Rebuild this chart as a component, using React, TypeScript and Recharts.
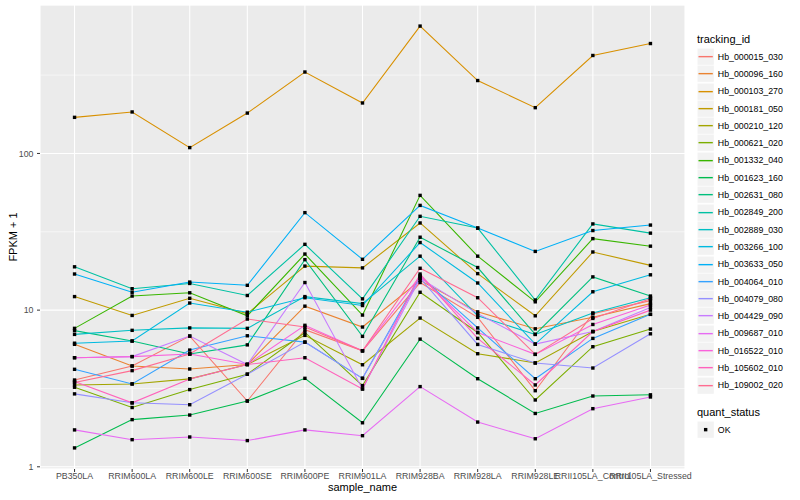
import React from "react";
import {
  LineChart,
  Line,
  XAxis,
  YAxis,
  CartesianGrid,
} from "recharts";

const sampleNames = [
  "PB350LA",
  "RRIM600LA",
  "RRIM600LE",
  "RRIM600SE",
  "RRIM600PE",
  "RRIM901LA",
  "RRIM928BA",
  "RRIM928LA",
  "RRIM928LE",
  "RRII105LA_Control",
  "RRII105LA_Stressed",
];

const trackingIds = [
  "Hb_000015_030",
  "Hb_000096_160",
  "Hb_000103_270",
  "Hb_000181_050",
  "Hb_000210_120",
  "Hb_000621_020",
  "Hb_001332_040",
  "Hb_001623_160",
  "Hb_002631_080",
  "Hb_002849_200",
  "Hb_002889_030",
  "Hb_003266_100",
  "Hb_003633_050",
  "Hb_004064_010",
  "Hb_004079_080",
  "Hb_004429_090",
  "Hb_009687_010",
  "Hb_016522_010",
  "Hb_105602_010",
  "Hb_109002_020",
];

// FPKM + 1, one value per sample
const hb000015_030 = [3.58, 4.4, 6.83, 2.63, 7.5, 5.5, 15.0, 9.0, 3.06, 9.5, 11.5];
const hb000096_160 = [6.05, 4.4, 4.21, 4.5, 10.6, 7.8, 15.5, 9.75, 7.6, 9.0, 11.0];
const hb000103_270 = [170, 184, 109, 181, 331, 210, 650, 292, 196, 422, 503];
const hb000181_050 = [12.2, 9.25, 11.9, 9.5, 19.1, 18.6, 36.0, 17.1, 9.2, 23.5, 19.3];
const hb000210_120 = [3.33, 3.38, 3.64, 4.5, 6.9, 4.48, 8.9, 5.27, 4.6, 7.3, 9.4];
const hb000621_020 = [3.22, 2.39, 3.11, 3.9, 7.2, 3.3, 13.0, 7.2, 2.67, 5.84, 7.57];
const hb001332_040 = [7.65, 12.3, 12.9, 9.2, 22.8, 9.3, 54.0, 22.1, 11.3, 28.6, 25.6];
const hb001623_160 = [1.32, 2.0, 2.14, 2.63, 3.67, 1.91, 6.53, 3.65, 2.19, 2.83, 2.88];
const hb002631_080 = [7.4, 6.35, 5.25, 6.0, 21.0, 6.8, 29.2, 18.7, 7.0, 16.3, 12.3];
const hb002849_200 = [18.9, 13.7, 14.8, 12.4, 26.3, 11.8, 39.7, 33.4, 11.6, 35.5, 31.0];
const hb002889_030 = [7.0, 7.43, 7.7, 7.65, 12.2, 11.0, 22.1, 9.2, 7.0, 9.6, 12.0];
const hb003266_100 = [6.15, 6.35, 11.1, 9.7, 12.0, 10.7, 27.0, 14.9, 6.07, 13.1, 16.8];
const hb003633_050 = [17.0, 13.0, 15.1, 14.4, 41.9, 21.1, 46.6, 33.4, 23.7, 32.2, 34.9];
const hb004064_010 = [4.19, 3.38, 5.56, 6.86, 6.25, 3.67, 16.5, 7.7, 3.65, 6.6, 9.4];
const hb004079_080 = [2.92, 2.56, 2.49, 3.9, 6.25, 3.67, 16.0, 6.04, 4.6, 4.27, 7.06];
const hb004429_090 = [4.97, 5.05, 6.83, 4.5, 15.0, 3.14, 16.0, 9.5, 6.07, 7.3, 10.4];
const hb009687_010 = [1.72, 1.49, 1.55, 1.47, 1.72, 1.58, 3.25, 1.93, 1.51, 2.35, 2.79];
const hb016522_010 = [4.97, 5.05, 5.25, 4.5, 8.0, 5.5, 16.5, 7.2, 5.22, 8.1, 10.8];
const hb105602_010 = [3.5, 2.56, 3.64, 4.5, 4.97, 3.14, 17.0, 6.6, 3.33, 7.3, 10.0];
const hb109002_020 = [3.45, 4.11, 5.25, 8.77, 7.8, 5.5, 18.5, 12.0, 5.22, 8.85, 11.8];

const seriesValues = [
  hb000015_030, hb000096_160, hb000103_270, hb000181_050, hb000210_120,
  hb000621_020, hb001332_040, hb001623_160, hb002631_080, hb002849_200,
  hb002889_030, hb003266_100, hb003633_050, hb004064_010, hb004079_080,
  hb004429_090, hb009687_010, hb016522_010, hb105602_010, hb109002_020,
];

const majorTicks = [1, 10, 100];
const minorTicks = [Math.sqrt(10), Math.sqrt(1000), Math.sqrt(100000)];

// ggplot2 default hue palette for 20 levels
const colors = [
  "#F8766D", "#EA8331", "#D89000", "#C09B00", "#A3A500",
  "#7CAE00", "#39B600", "#00BB4E", "#00BF7D", "#00C1A3",
  "#00BFC4", "#00BAE0", "#00B0F6", "#35A2FF", "#9590FF",
  "#C77CFF", "#E76BF3", "#FA62DB", "#FF62BC", "#FF6C91",
];

const rows = sampleNames.map((name, i) => {
  const row: Record<string, number | string> = { idx: i, name };
  trackingIds.forEach((id, s) => {
    row[id] = seriesValues[s][i];
  });
  return row;
});

// log scale with ggplot's 5% expansion
const allValues = seriesValues.flat();
const lo = Math.log10(Math.min(...allValues));
const hi = Math.log10(Math.max(...allValues));
const pad = (hi - lo) * 0.05;
const yDomain = [10 ** (lo - pad), 10 ** (hi + pad)];

const FONT = "'Liberation Sans', Arial, Helvetica, sans-serif";

const SquareDot = (props: any) => {
  const { cx, cy, index, dataKey } = props;
  if (cx == null || cy == null) return <g key={`${dataKey}-${index}`} />;
  return (
    <rect
      key={`${dataKey}-${index}`}
      x={cx - 1.7}
      y={cy - 1.7}
      width={3.4}
      height={3.4}
      fill="#000"
    />
  );
};

function Legend() {
  const keySize = 17.3;
  return (
    <div
      style={{
        position: "absolute",
        left: 697,
        top: 30,
        fontFamily: FONT,
        color: "#000",
      }}
    >
      <div style={{ fontSize: 11, height: 18, lineHeight: "18px" }}>tracking_id</div>
      {trackingIds.map((id, i) => (
        <div
          key={id}
          style={{ display: "flex", alignItems: "center", height: keySize }}
        >
          <svg width={keySize} height={keySize} style={{ display: "block" }}>
            <rect x={0} y={0} width={keySize} height={keySize} fill="#F2F2F2" stroke="#fff" strokeWidth={1} />
            <line x1={1.5} x2={keySize - 1.5} y1={keySize / 2} y2={keySize / 2} stroke={colors[i]} strokeWidth={1.4} />
          </svg>
          <span style={{ fontSize: 8.8, marginLeft: 3.5 }}>{id}</span>
        </div>
      ))}
      <div style={{ fontSize: 11, height: 18, lineHeight: "18px", marginTop: 9 }}>quant_status</div>
      <div style={{ display: "flex", alignItems: "center", height: keySize }}>
        <svg width={keySize} height={keySize} style={{ display: "block" }}>
          <rect x={0} y={0} width={keySize} height={keySize} fill="#F2F2F2" stroke="#fff" strokeWidth={1} />
          <rect x={keySize / 2 - 1.7} y={keySize / 2 - 1.7} width={3.4} height={3.4} fill="#000" />
        </svg>
        <span style={{ fontSize: 8.8, marginLeft: 3.5 }}>OK</span>
      </div>
    </div>
  );
}

export default function App() {
  return (
    <div
      style={{
        position: "absolute",
        left: 0,
        top: 0,
        width: 800,
        height: 500,
        background: "#fff",
        fontFamily: FONT,
        overflow: "hidden",
      }}
    >
      <LineChart
        width={800}
        height={500}
        data={rows}
        margin={{ top: 5, right: 115, bottom: 0, left: 0 }}
      >
        <CartesianGrid
          yAxisId="minor"
          vertical={false}
          fill="#EBEBEB"
          fillOpacity={1}
          stroke="#fff"
          strokeWidth={0.55}
        />
        <CartesianGrid
          yAxisId="major"
          fill="none"
          stroke="#fff"
          strokeWidth={1.07}
        />
        <XAxis
          dataKey="idx"
          type="number"
          domain={[-0.6, sampleNames.length - 1 + 0.6]}
          ticks={sampleNames.map((_, i) => i)}
          tickFormatter={(v: number) => sampleNames[v]}
          interval={0}
          allowDataOverflow
          height={31}
          axisLine={false}
          tickSize={3}
          tickMargin={1}
          tickLine={{ stroke: "#333333" }}
          tick={{ fill: "#4D4D4D", fontSize: 8.8, fontFamily: FONT }}
        />
        <YAxis
          yAxisId="major"
          scale="log"
          type="number"
          domain={yDomain}
          allowDataOverflow
          ticks={majorTicks}
          width={40}
          axisLine={false}
          tickSize={3}
          tickMargin={3.5}
          tickLine={{ stroke: "#333333" }}
          tick={{ fill: "#4D4D4D", fontSize: 8.8, fontFamily: FONT }}
        />
        <YAxis
          yAxisId="minor"
          scale="log"
          type="number"
          domain={yDomain}
          allowDataOverflow
          ticks={minorTicks}
          hide
        />
        {trackingIds.map((id, i) => (
          <Line
            key={id}
            yAxisId="major"
            type="linear"
            dataKey={id}
            stroke={colors[i]}
            strokeWidth={1.07}
            dot={SquareDot}
            activeDot={false}
            isAnimationActive={false}
          />
        ))}
      </LineChart>
      <div
        style={{
          position: "absolute",
          left: 40,
          width: 645,
          top: 481,
          textAlign: "center",
          fontSize: 11,
          color: "#000",
        }}
      >
        sample_name
      </div>
      <div
        style={{
          position: "absolute",
          left: 13,
          top: 237,
          transform: "translate(-50%, -50%) rotate(-90deg)",
          fontSize: 11,
          color: "#000",
          whiteSpace: "nowrap",
        }}
      >
        FPKM + 1
      </div>
      <Legend />
    </div>
  );
}
